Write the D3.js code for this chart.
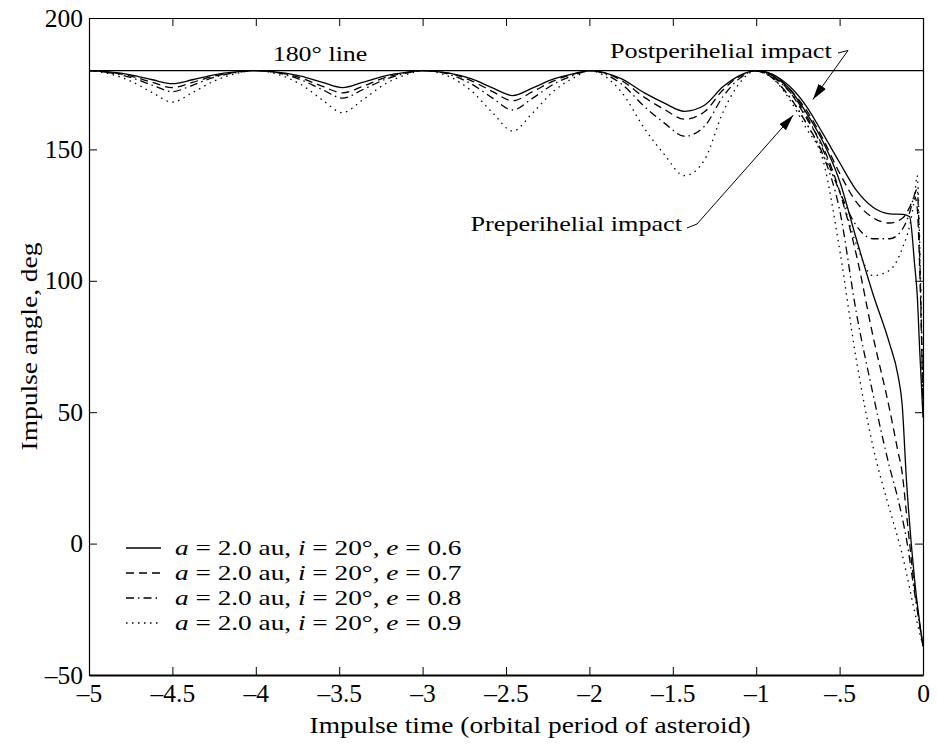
<!DOCTYPE html>
<html lang="en">
<head>
<meta charset="UTF-8">
<title>Impulse angle vs impulse time</title>
<script src="https://d3js.org/d3.v7.min.js"></script>
<style>
  body { margin: 0; background: #fff; }
  svg { display: block; font-family: "Liberation Serif", "Times New Roman", serif; }
  .curve { fill: none; stroke: #000; stroke-width: 1.3px; }
</style>
</head>
<body>
<svg width="937" height="748"></svg>
<script>
// ---- data ----
// impulse time, periodic part before the last perihelion passage
const tOsc = [-5, -4.88, -4.75, -4.62, -4.5, -4.38, -4.25, -4.12, -4,
              -3.86, -3.73, -3.6, -3.48, -3.36, -3.23, -3.1, -3,
              -2.84, -2.71, -2.58, -2.46, -2.34, -2.21, -2.08, -2,
              -1.81, -1.67, -1.55, -1.43, -1.31, -1.2, -1.1];
const oscE06 = [180, 179.5, 178.4, 176.5, 175, 176.5, 178.4, 179.5, 180,
                179.3, 177.9, 175.5, 173.5, 175.5, 177.9, 179.3, 180,
                179, 176.9, 173.4, 170.5, 173.4, 176.9, 179, 180,
                176.9, 171.5, 167.6, 164.5, 166.8, 173.8, 178.1];
const oscE07 = [180, 179.3, 177.9, 175.5, 173.5, 175.5, 177.9, 179.3, 180,
                179.2, 177.2, 174, 171.5, 174, 177.2, 179.2, 180,
                178.9, 176.2, 172, 168.5, 172, 176.2, 178.9, 180,
                176.3, 169.8, 165.2, 161.5, 164.3, 172.6, 177.8];
const oscE08 = [180, 179.2, 177.4, 174.4, 172, 174.4, 177.4, 179.2, 180,
                179, 176.5, 172.7, 169.5, 172.7, 176.5, 179, 180,
                178.5, 175, 169.5, 165, 169.5, 175, 178.5, 180,
                175, 166.3, 160, 155, 158.8, 170, 177];
const oscE09 = [180, 178.8, 176, 171.6, 168, 171.6, 176, 178.8, 180,
                178.4, 174.7, 168.8, 164, 168.8, 174.7, 178.4, 180,
                177.7, 172.4, 163.9, 157, 163.9, 172.4, 177.7, 180,
                172, 158, 148, 140, 146, 164, 175.2];

// last orbit, preperihelial impact branch
const tPre = [-1, -0.9, -0.8, -0.7, -0.6, -0.5, -0.4, -0.3, -0.2, -0.15, -0.125, -0.1, -0.05, 0];
const preE06 = [180, 178.5, 173, 164, 153, 138, 116, 95, 76, 64, 53, 25, -14, -39];
const preE07 = [180, 178, 172, 162, 151, 134, 110, 79, 51, 35, 27, 12, -17, -39];
const preE08 = [180, 177, 170, 160, 148, 127, 88, 57, 29, 17, 10, 2, -19, -39];
const preE09 = [180, 177, 169, 158, 146, 112, 70, 37, 13, 2, -4, -11, -26, -39];

// last orbit, postperihelial impact branch
const tPost = [-1, -0.9, -0.8, -0.7, -0.6, -0.5, -0.4, -0.3, -0.2, -0.12, -0.08, -0.05, -0.035, -0.02, 0];
const postE06 = [180, 178.5, 174, 166.5, 156, 145, 134.5, 128, 125.5, 125.3, 124.4, 106, 95, 74, 48];
const postE07 = [180, 178, 173, 165, 154, 141, 130, 124, 122, 124, 128, 132, 128, 105, 52];
const postE08 = [180, 177.5, 172, 163, 150, 134, 121, 116, 116, 120, 126, 133, 135, 110, 52];
const postE09 = [180, 177, 170, 160, 148, 134, 114, 102, 104, 113, 121, 132, 140, 115, 52];

const eccentricities = ["0.6", "0.7", "0.8", "0.9"];
const xTicks = [-5, -4.5, -4, -3.5, -3, -2.5, -2, -1.5, -1, -0.5, 0];
const xTickLabels = ["\u20135", "\u20134.5", "\u20134", "\u20133.5", "\u20133", "\u20132.5",
                     "\u20132", "\u20131.5", "\u20131", "\u2013.5", "0"];
const yTicks = [-50, 0, 50, 100, 150, 200];
const yTickLabels = ["\u201350", "0", "50", "100", "150", "200"];

// annotation anchors in data units
const postArrowTip = [-0.66, 169];
const preArrowTip = [-0.778, 163];

// ---- layout ----
const svg = d3.select("svg");
const plotLeft = 89, plotRight = 923, plotTop = 18, plotBottom = 675;
const x = d3.scaleLinear().domain([-5, 0]).range([plotLeft, plotRight]);
const y = d3.scaleLinear().domain([-50, 200]).range([plotBottom, plotTop]);

const dashes = [null, "8,5", "8,4,1.5,4", "1.5,4.5"];
const oscData = [oscE06, oscE07, oscE08, oscE09];
const preData = [preE06, preE07, preE08, preE09];
const postData = [postE06, postE07, postE08, postE09];

// 180 deg reference line
svg.append("line")
  .attr("x1", x(-5)).attr("x2", x(0))
  .attr("y1", y(180)).attr("y2", y(180))
  .attr("stroke", "#000").attr("stroke-width", 1.2);

const line = d3.line()
  .x(d => x(d[0]))
  .y(d => y(d[1]))
  .curve(d3.curveMonotoneX);

eccentricities.forEach((e, i) => {
  const osc = tOsc.map((t, j) => [t, oscData[i][j]]);
  const pre = tPre.map((t, j) => [t, preData[i][j]]);
  const post = tPost.map((t, j) => [t, postData[i][j]]);
  svg.append("path").attr("class", "curve")
    .attr("d", line(osc.concat(pre)))
    .attr("stroke-dasharray", dashes[i]);
  svg.append("path").attr("class", "curve")
    .attr("d", line(post))
    .attr("stroke-dasharray", dashes[i]);
});

// axes, ticks pointing inward on all four sides
const axisFont = "25.5px";
const gx = svg.append("g").attr("transform", `translate(0,${plotBottom})`)
  .call(d3.axisBottom(x).tickValues(xTicks)
    .tickFormat((d, i) => xTickLabels[i]).tickSizeInner(-8).tickSizeOuter(0).tickPadding(9));
const gy = svg.append("g").attr("transform", `translate(${plotLeft},0)`)
  .call(d3.axisLeft(y).tickValues(yTicks)
    .tickFormat((d, i) => yTickLabels[i]).tickSizeInner(-8).tickSizeOuter(0).tickPadding(6));
const gt = svg.append("g").attr("transform", `translate(0,${plotTop})`)
  .call(d3.axisTop(x).tickValues(xTicks).tickFormat("").tickSizeInner(-8).tickSizeOuter(0));
const gr = svg.append("g").attr("transform", `translate(${plotRight},0)`)
  .call(d3.axisRight(y).tickValues(yTicks).tickFormat("").tickSizeInner(-8).tickSizeOuter(0));

[gx, gy, gt, gr].forEach(g => {
  g.selectAll("text").style("font-size", axisFont).style("font-family", "Liberation Serif").attr("fill", "#000");
  g.selectAll("line").attr("stroke", "#000");
  g.select(".domain").attr("stroke", "#000").attr("stroke-width", 1.2);
});
gx.select(".domain").attr("stroke-width", 2.2);

// text helper: the figure's serif text is wider than it is tall
function label(px, py, anchor, size, stretch, rotate) {
  return svg.append("text")
    .attr("transform", `translate(${px},${py})${rotate ? " rotate(-90)" : ""} scale(${stretch},1)`)
    .attr("text-anchor", anchor)
    .style("font-size", size + "px");
}

label(530, 733, "middle", 22.5, 1.22).text("Impulse time (orbital period of asteroid)");
label(37, (plotTop + plotBottom) / 2, "middle", 22.5, 1.22, true).text("Impulse angle, deg");

label(320, 61, "middle", 22, 1.18).text("180\u00b0 line");
label(610, 58, "start", 22, 1.19).text("Postperihelial impact");
label(682, 231, "end", 22, 1.19).text("Preperihelial impact");

// arrows
svg.append("defs").append("marker")
  .attr("id", "arrowhead")
  .attr("viewBox", "0 0 10 10")
  .attr("refX", 10).attr("refY", 5)
  .attr("markerWidth", 16).attr("markerHeight", 16)
  .attr("markerUnits", "userSpaceOnUse")
  .attr("orient", "auto")
  .append("path").attr("d", "M0,2.2L10,5L0,7.8Z").attr("fill", "#000");

svg.append("path")
  .attr("d", `M838,53L848,50.5L${x(postArrowTip[0])},${y(postArrowTip[1])}`)
  .attr("fill", "none").attr("stroke", "#000").attr("stroke-width", 1)
  .attr("marker-end", "url(#arrowhead)");
svg.append("path")
  .attr("d", `M687,228L697,224L${x(preArrowTip[0])},${y(preArrowTip[1])}`)
  .attr("fill", "none").attr("stroke", "#000").attr("stroke-width", 1)
  .attr("marker-end", "url(#arrowhead)");

// legend
const legendX = 126, legendY = 548, legendStep = 25;
eccentricities.forEach((e, i) => {
  const ly = legendY + i * legendStep;
  svg.append("line")
    .attr("x1", legendX).attr("x2", legendX + 35)
    .attr("y1", ly).attr("y2", ly)
    .attr("stroke", "#000").attr("stroke-width", 1.3)
    .attr("stroke-dasharray", dashes[i]);
  const t = label(legendX + 49, ly + 7, "start", 22, 1.24);
  t.append("tspan").style("font-style", "italic").text("a");
  t.append("tspan").text(" = 2.0 au, ");
  t.append("tspan").style("font-style", "italic").text("i");
  t.append("tspan").text(" = 20\u00b0, ");
  t.append("tspan").style("font-style", "italic").text("e");
  t.append("tspan").text(" = " + e);
});
</script>
</body>
</html>
